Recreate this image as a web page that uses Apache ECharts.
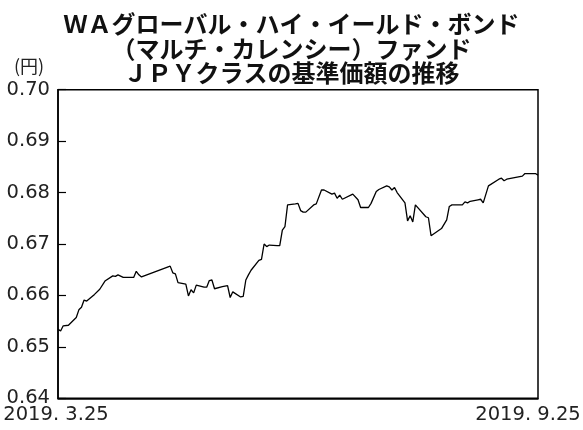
<!DOCTYPE html>
<html><head><meta charset="utf-8">
<script src="https://cdn.jsdelivr.net/npm/echarts@6/dist/echarts.min.js"></script>
<style>html,body{margin:0;padding:0;background:#fff}#c{width:583px;height:430px}</style>
</head><body><div id="c"></div>
<script>
const titleLines = ['ＷＡグローバル・ハイ・イールド・ボンド', '（マルチ・カレンシー）ファンド', 'ＪＰＹクラスの基準価額の推移'];
const unitLabel = '(円)';
const startDate = '2019-03-25';
const endDate = '2019-09-25';
const xTickLabels = ['2019. 3.25', '2019. 9.25'];
const yMin = 0.64, yMax = 0.70, yStep = 0.01;
const dates = [
 '2019-03-25','2019-03-26','2019-03-27','2019-03-29','2019-04-01','2019-04-02','2019-04-03','2019-04-04','2019-04-05',
 '2019-04-08','2019-04-10','2019-04-12','2019-04-15','2019-04-16','2019-04-17','2019-04-19','2019-04-22','2019-04-23',
 '2019-04-24','2019-04-25','2019-04-26','2019-05-07','2019-05-08','2019-05-09','2019-05-10','2019-05-13','2019-05-14',
 '2019-05-15','2019-05-16','2019-05-17','2019-05-20','2019-05-21','2019-05-22','2019-05-23','2019-05-24','2019-05-27',
 '2019-05-29','2019-05-30','2019-05-31','2019-06-03','2019-06-04','2019-06-05','2019-06-06','2019-06-07','2019-06-10',
 '2019-06-11','2019-06-12','2019-06-13','2019-06-14','2019-06-17','2019-06-18','2019-06-19','2019-06-20','2019-06-21',
 '2019-06-24','2019-06-25','2019-06-26','2019-06-27','2019-06-28','2019-07-01','2019-07-02','2019-07-04','2019-07-05',
 '2019-07-08','2019-07-09','2019-07-10','2019-07-11','2019-07-12','2019-07-16','2019-07-18','2019-07-19','2019-07-22',
 '2019-07-23','2019-07-25','2019-07-26','2019-07-29','2019-07-30','2019-07-31','2019-08-01','2019-08-02','2019-08-05',
 '2019-08-06','2019-08-07','2019-08-08','2019-08-09','2019-08-13','2019-08-14','2019-08-15','2019-08-19','2019-08-21',
 '2019-08-22','2019-08-23','2019-08-27','2019-08-28','2019-08-29','2019-08-30','2019-09-02','2019-09-03','2019-09-04',
 '2019-09-06','2019-09-10','2019-09-11','2019-09-12','2019-09-13','2019-09-17','2019-09-18','2019-09-19','2019-09-20',
 '2019-09-24','2019-09-25'
];
const navs = [
 0.6534,0.6531,0.6541,0.6542,0.6557,0.6572,0.6577,0.6591,0.6589,
 0.6602,0.6612,0.6628,0.6638,0.6637,0.6640,0.6635,0.6635,0.6635,
 0.6647,0.6640,0.6636,0.6657,0.6644,0.6642,0.6625,0.6622,0.6599,
 0.6611,0.6605,0.6620,0.6616,0.6616,0.6629,0.6630,0.6613,0.6617,
 0.6619,0.6596,0.6607,0.6597,0.6598,0.6630,0.6640,0.6649,0.6668,
 0.6670,0.6700,0.6695,0.6698,0.6697,0.6697,0.6727,0.6734,0.6776,
 0.6778,0.6779,0.6765,0.6762,0.6762,0.6776,0.6778,0.6805,0.6805,
 0.6797,0.6799,0.6789,0.6795,0.6787,0.6797,0.6786,0.6771,0.6771,
 0.6779,0.6802,0.6806,0.6813,0.6811,0.6805,0.6810,0.6800,0.6780,
 0.6745,0.6755,0.6743,0.6776,0.6753,0.6751,0.6716,0.6730,0.6747,
 0.6773,0.6776,0.6776,0.6782,0.6780,0.6783,0.6786,0.6787,0.6780,
 0.6813,0.6826,0.6828,0.6823,0.6826,0.6830,0.6831,0.6832,0.6837,
 0.6837,0.6834
];

const DAY = 86400000;
const t0 = Date.parse(startDate), t1 = Date.parse(endDate);
const span = Math.round((t1 - t0) / DAY);
const seriesData = dates.map((d, i) => [Math.round((Date.parse(d) - t0) / DAY), navs[i]]);

const chart = echarts.init(document.getElementById('c'), null, {renderer: 'canvas'});
const numFont = 'DejaVu Sans';
const numSize = 19.5;
chart.setOption({
  animation: false,
  backgroundColor: '#fff',
  title: {
    text: titleLines.join('\n'),
    left: 'center', top: 7,
    textStyle: {fontFamily: 'Noto Sans CJK JP', fontWeight: 'bold', fontSize: 24, lineHeight: 24.5, color: '#111'}
  },
  graphic: [{type: 'text', left: 14, top: 57, style: {text: unitLabel, font: '18px "Noto Sans CJK JP"', fill: '#222'}}],
  grid: {left: 58, right: 45, top: 89.7, bottom: 31.7, containLabel: false, outerBoundsMode: 'none',
         show: true, borderColor: '#000', borderWidth: 1.5, backgroundColor: 'transparent'},
  xAxis: {
    type: 'value', min: 0, max: span, interval: span,
    axisLine: {show: true, lineStyle: {color: '#000', width: 1.5}},
    axisTick: {show: false}, splitLine: {show: false},
    axisLabel: {
      margin: 7, fontFamily: numFont, fontSize: numSize, color: '#222',
      formatter: v => v === 0 ? '{r|' + xTickLabels[0] + '}{t|}' : '{r|' + xTickLabels[1] + '}{s|}',
      rich: {r: {fontFamily: numFont, fontSize: numSize, color: '#222'}, s: {width: 20}, t: {width: 4}}
    }
  },
  yAxis: {
    type: 'value', min: yMin, max: yMax, interval: yStep,
    axisLine: {show: true, lineStyle: {color: '#000', width: 1.5}},
    axisTick: {show: true, inside: true, length: 8, lineStyle: {color: '#000', width: 1.2}},
    splitLine: {show: false},
    axisLabel: {margin: 8, fontFamily: numFont, fontSize: numSize, color: '#222', formatter: v => v.toFixed(2)}
  },
  series: [{type: 'line', data: seriesData, showSymbol: false, lineStyle: {color: '#000', width: 1.3}}]
});
</script></body></html>
